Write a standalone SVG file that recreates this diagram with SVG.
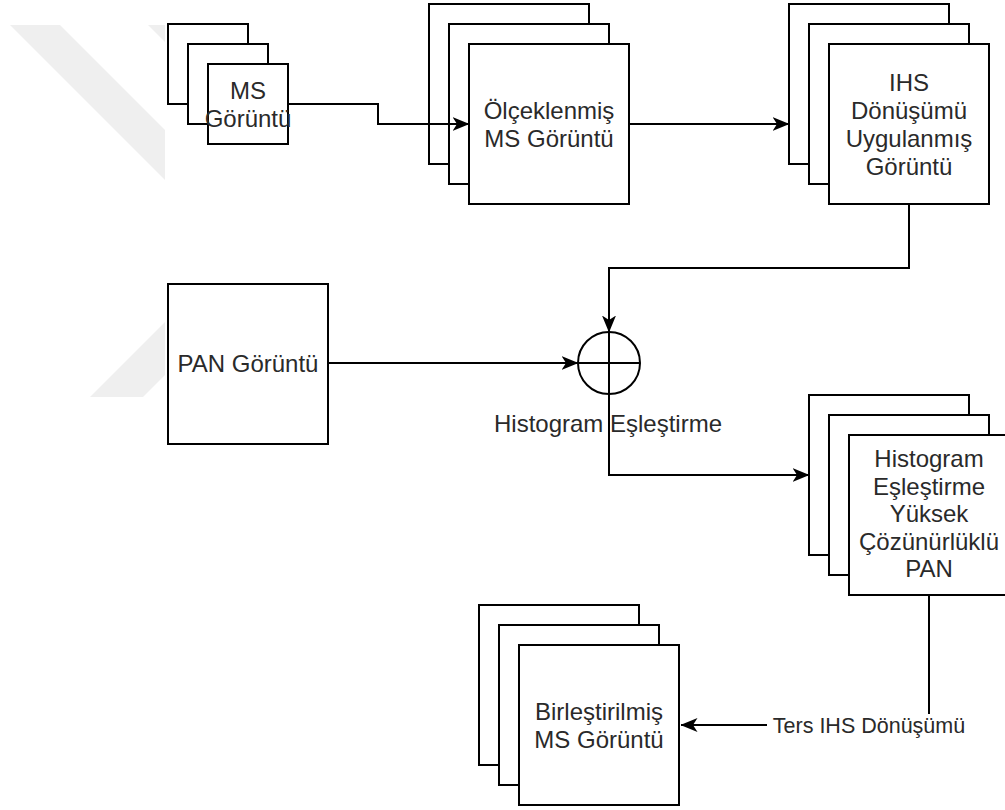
<svg xmlns="http://www.w3.org/2000/svg" width="1005" height="810" viewBox="0 0 1005 810">
  <defs>
    <style>
      .box { fill: #ffffff; stroke: #000000; stroke-width: 2; }
      .edge { fill: none; stroke: #000000; stroke-width: 2; }
      .lbl { font-family: "Liberation Sans", Arial, Helvetica, sans-serif; font-size: 24px; fill: #2a2a2a; text-anchor: middle; }
      .elbl { font-family: "Liberation Sans", Arial, Helvetica, sans-serif; font-size: 21.5px; fill: #2a2a2a; text-anchor: middle; }
      .wm { fill: #efefef; stroke: none; }
    </style>
    <marker id="arr" markerWidth="17" markerHeight="15" refX="16.5" refY="7.5" orient="auto" markerUnits="userSpaceOnUse" viewBox="0 0 17 15">
      <path d="M0,0.5 L17,7.5 L0,14.5 L4.5,7.5 Z" fill="#000000"/>
    </marker>
  </defs>
  <rect x="0" y="0" width="1005" height="810" fill="#ffffff"/>
  <g id="watermark">
    <polygon class="wm" points="10,25 60,25 165,130 165,180"/>
    <polygon class="wm" points="148,25 165,25 165,42"/>
    <polygon class="wm" points="90,397 143,397 165,375 165,322"/>
  </g>
  <g id="ms-goruntu">
    <rect class="box" x="168" y="24" width="80" height="80"/>
    <rect class="box" x="188" y="44" width="80" height="80"/>
    <rect class="box" x="208" y="64" width="80" height="80"/>
    <text class="lbl" x="248" y="98.5">MS</text>
    <text class="lbl" x="248" y="126.5">Görüntü</text>
  </g>
  <g id="olceklenmis-ms">
    <rect class="box" x="429" y="4" width="160" height="160"/>
    <rect class="box" x="449" y="24" width="160" height="160"/>
    <rect class="box" x="469" y="44" width="160" height="160"/>
    <text class="lbl" x="549" y="118.5">Ölçeklenmiş</text>
    <text class="lbl" x="549" y="146.5">MS Görüntü</text>
  </g>
  <g id="ihs-donusumu">
    <rect class="box" x="789" y="4" width="160" height="160"/>
    <rect class="box" x="809" y="24" width="160" height="160"/>
    <rect class="box" x="829" y="44" width="160" height="160"/>
    <text class="lbl" x="909" y="90.5">IHS</text>
    <text class="lbl" x="909" y="118.5">Dönüşümü</text>
    <text class="lbl" x="909" y="146.5">Uygulanmış</text>
    <text class="lbl" x="909" y="174.5">Görüntü</text>
  </g>
  <g id="pan-goruntu">
    <rect class="box" x="168" y="284" width="160" height="160"/>
    <text class="lbl" x="248" y="372">PAN Görüntü</text>
  </g>
  <g id="histogram-eslestirme">
    <circle class="box" cx="609" cy="363" r="31"/>
    <line class="edge" x1="578" y1="363" x2="640" y2="363"/>
    <line class="edge" x1="609" y1="332" x2="609" y2="394"/>
    <text class="lbl" x="608" y="432">Histogram Eşleştirme</text>
  </g>
  <g id="histogram-pan">
    <rect class="box" x="809" y="395" width="160" height="160"/>
    <rect class="box" x="829" y="415" width="160" height="160"/>
    <rect class="box" x="849" y="435" width="160" height="160"/>
    <text class="lbl" x="929" y="467">Histogram</text>
    <text class="lbl" x="929" y="494.5">Eşleştirme</text>
    <text class="lbl" x="929" y="522">Yüksek</text>
    <text class="lbl" x="929" y="549.5">Çözünürlüklü</text>
    <text class="lbl" x="929" y="577">PAN</text>
  </g>
  <g id="birlestirilmis-ms">
    <rect class="box" x="479" y="605" width="160" height="160"/>
    <rect class="box" x="499" y="625" width="160" height="160"/>
    <rect class="box" x="519" y="645" width="160" height="160"/>
    <text class="lbl" x="599" y="719.5">Birleştirilmiş</text>
    <text class="lbl" x="599" y="747.5">MS Görüntü</text>
  </g>
  <g id="connectors">
    <path class="edge" d="M288,104 H378 V124 H469" marker-end="url(#arr)"/>
    <path class="edge" d="M629,124 H789" marker-end="url(#arr)"/>
    <path class="edge" d="M909,204 V268 H609 V332" marker-end="url(#arr)"/>
    <path class="edge" d="M328,363 H578" marker-end="url(#arr)"/>
    <path class="edge" d="M609,394 V475 H809" marker-end="url(#arr)"/>
    <path class="edge" d="M929,595 V725 H681" marker-end="url(#arr)"/>
  </g>
  <g id="edge-label-ters-ihs">
    <rect x="767" y="714" width="204" height="24" fill="#ffffff"/>
    <text class="elbl" x="869" y="733">Ters IHS Dönüşümü</text>
  </g>
</svg>
